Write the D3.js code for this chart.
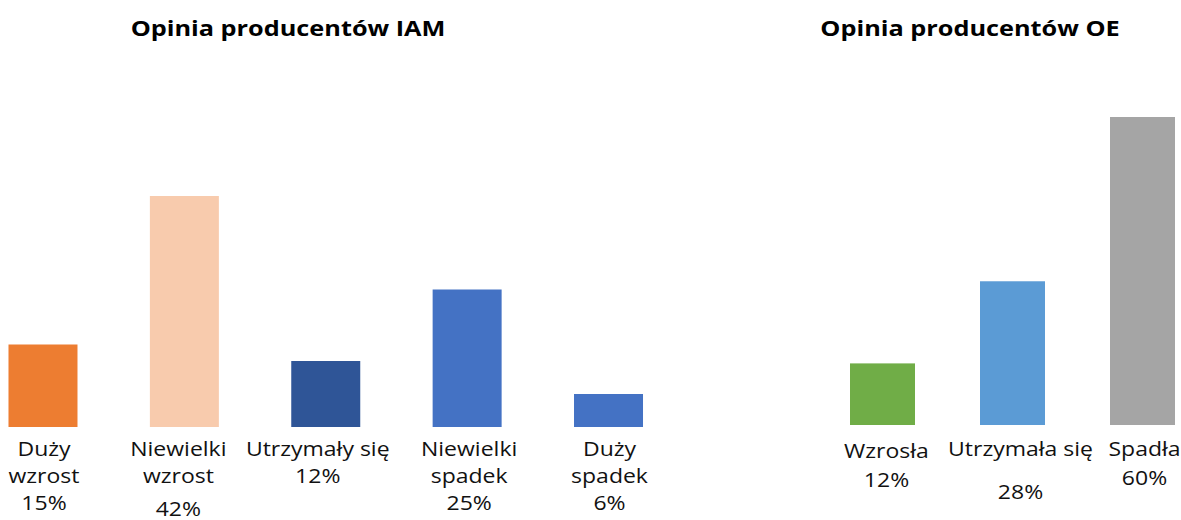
<!DOCTYPE html>
<html lang="pl">
<head>
<meta charset="utf-8">
<title>Opinia producentów IAM i OE</title>
<script src="https://cdn.jsdelivr.net/npm/d3@7"></script>
<style>
  html, body { margin: 0; padding: 0; background: #fff; }
  svg { display: block; }
  text { font-family: "Open Sans", "Noto Sans", sans-serif; fill: #111; }
</style>
</head>
<body>
<svg id="chart" width="1181" height="520"></svg>
<script>
// ---- data ----
const iamTitle = "Opinia producentów IAM";
const iamCategories = [["Duży", "wzrost"], ["Niewielki", "wzrost"], ["Utrzymały się"], ["Niewielki", "spadek"], ["Duży", "spadek"]];
const iamValues = [15, 42, 12, 25, 6];
const iamColors = ["#ED7D31", "#F8CBAD", "#2F5597", "#4472C4", "#4472C4"];

const oeTitle = "Opinia producentów OE";
const oeCategories = [["Wzrosła"], ["Utrzymała się"], ["Spadła"]];
const oeValues = [12, 28, 60];
const oeColors = ["#70AD47", "#5B9BD5", "#A5A5A5"];

// ---- layout ----
const svg = d3.select("#chart");
const stretch = 1.15;          // horizontal widening of all text
const lineHeight = 27;

const panels = [
  {
    title: iamTitle, cats: iamCategories, values: iamValues, colors: iamColors,
    titleX: 288, titleY: 36,
    xRange: [-27.7, 679.2], padInner: 0.512,
    yDomain: [0, 50], yRange: [427, 152],
    labelTop: 456,
    labelDx: [1, -6, -8, 2, 1],
    firstDy: [0, 0, 0, 0, 0],
    pctDy: [0, 6, 0, 0, 0]
  },
  {
    title: oeTitle, cats: oeCategories, values: oeValues, colors: oeColors,
    titleX: 970, titleY: 36,
    xRange: [817.5, 1207.5], padInner: 0.5,
    yDomain: [0, 60], yRange: [425, 117],
    labelTop: 456,
    labelDx: [4, 8, 2],
    firstDy: [2, 0, 0],
    pctDy: [2, 16, 2]
  }
];

function stretchedText(g, x, y, str, size, weight) {
  return g.append("text")
    .attr("transform", `translate(${x},${y}) scale(${stretch},1)`)
    .attr("text-anchor", "middle")
    .attr("font-size", size)
    .attr("font-weight", weight || 400)
    .text(str);
}

panels.forEach(p => {
  const g = svg.append("g");
  const keys = p.values.map((d, i) => i);

  const x = d3.scaleBand()
    .domain(keys)
    .range(p.xRange)
    .paddingInner(p.padInner)
    .paddingOuter(p.padInner / 2);

  const y = d3.scaleLinear().domain(p.yDomain).range(p.yRange);

  // title
  stretchedText(g, p.titleX, p.titleY, p.title, 22, 700).style("fill", "#000");

  // bars
  g.selectAll("rect")
    .data(p.values)
    .join("rect")
    .attr("x", (d, i) => x(i))
    .attr("y", d => y(d))
    .attr("width", x.bandwidth())
    .attr("height", d => y(0) - y(d))
    .attr("fill", (d, i) => p.colors[i]);

  // category names with the share underneath
  p.values.forEach((v, i) => {
    const cx = x(i) + x.bandwidth() / 2 + p.labelDx[i];
    const lines = p.cats[i];
    const top = p.labelTop + p.firstDy[i];
    lines.forEach((ln, k) => {
      stretchedText(g, cx, top + k * lineHeight, ln, 20);
    });
    stretchedText(g, cx, top + lines.length * lineHeight + p.pctDy[i], v + "%", 20);
  });
});
</script>
</body>
</html>
